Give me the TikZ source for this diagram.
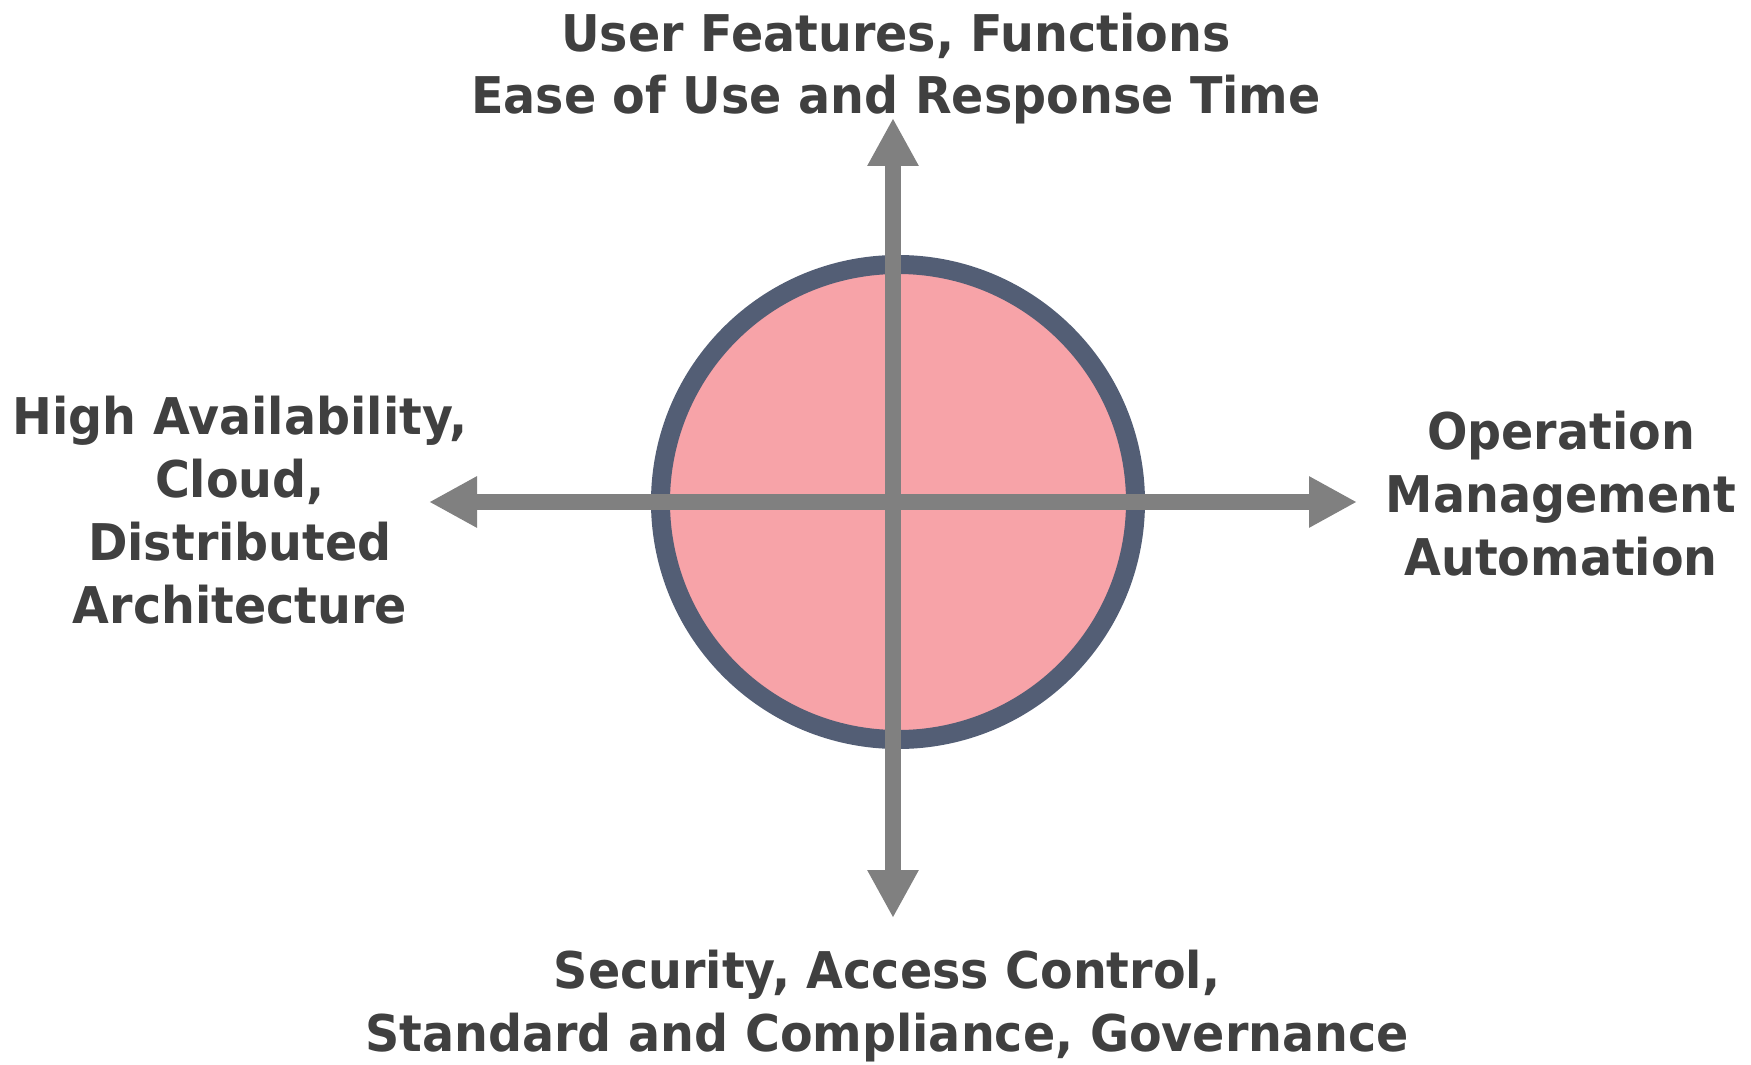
\documentclass[tikz,border=0pt]{standalone}
\usepackage{fontspec}
\setmainfont{DejaVu Sans}[FakeStretch=0.94]
\usepackage{xcolor}
\usepackage{tikz}
\usetikzlibrary{arrows.meta, positioning}
\definecolor{axisgray}{HTML}{808080}
\definecolor{ringslate}{HTML}{535E75}
\definecolor{corepink}{HTML}{F7A3A8}
\definecolor{labeldark}{HTML}{404040}
\tikzstyle{corering} = [circle, draw=ringslate, fill=corepink, line width=0.19cm,
  minimum size=4.75cm, inner sep=0pt]
\tikzstyle{axisline} = [draw=axisgray, line width=0.16cm,
  {Triangle[length=0.48cm, width=0.48cm]}-{Triangle[length=0.48cm, width=0.48cm]}]
\tikzstyle{labeltext} = [align=center, text=labeldark, inner sep=0pt, anchor=base,
  font=\bfseries\fontsize{14.4}{17.9}\selectfont]

\begin{document}
\begin{tikzpicture}

  \useasboundingbox (0,0) rectangle (17.51,10.64);

  % === CORE ===
  \node (hub) [corering] at (8.98,5.62) {};

  % === AXIS ENDS ===
  \coordinate (up)    at (8.93,9.46);
  \coordinate (down)  at (8.93,1.46);
  \coordinate (west)  at (4.29,5.62);
  \coordinate (east)  at (13.57,5.62);

  % === AXES ===
  \draw[axisline] (down) -- (up);
  \draw[axisline] (west) -- (east);

  % === LABELS ===
  \node (lup) [labeltext] at (8.96,9.50)
    {User Features, Functions\\Ease of Use and Response Time};
  \node (lwest) [labeltext] at (2.40,4.41)
    {High Availability,\\Cloud,\\Distributed\\Architecture};
  \node (least) [labeltext] at (15.61,4.89)
    {Operation\\Management\\Automation};
  \node (ldown) [labeltext] at (8.87,0.13)
    {Security, Access Control,\\Standard and Compliance, Governance};

\end{tikzpicture}
\end{document}
